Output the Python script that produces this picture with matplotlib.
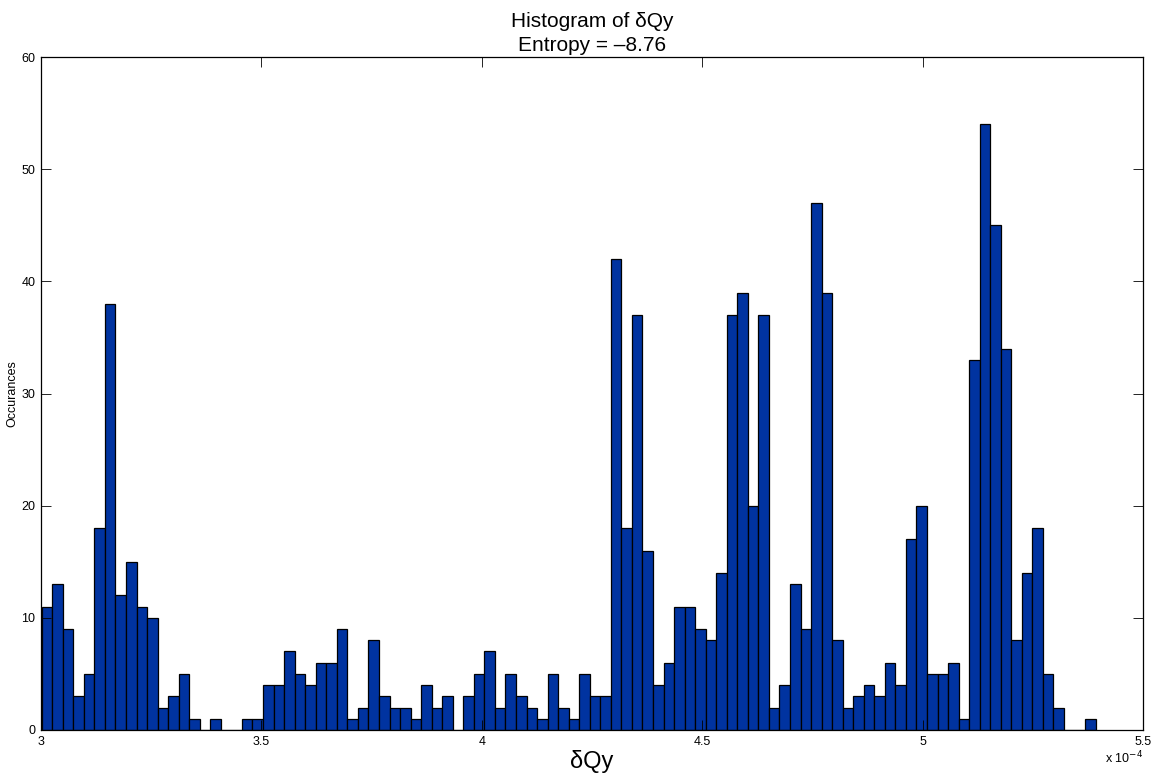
import numpy as np
import matplotlib.pyplot as plt

# histogram counts (100 bins)
counts = [11, 13, 9, 3, 5, 18, 38, 12, 15, 11,
          10, 2, 3, 5, 1, 0, 1, 0, 0, 1,
          1, 4, 4, 7, 5, 4, 6, 6, 9, 1,
          2, 8, 3, 2, 2, 1, 4, 2, 3, 0,
          3, 5, 7, 2, 5, 3, 2, 1, 5, 2,
          1, 5, 3, 3, 42, 18, 37, 16, 4, 6,
          11, 11, 9, 8, 14, 37, 39, 20, 37, 2,
          4, 13, 9, 47, 39, 8, 2, 3, 4, 3,
          6, 4, 17, 20, 5, 5, 6, 1, 33, 54,
          45, 34, 8, 14, 18, 5, 2, 0, 0, 1]

# data range (units of 1e-4)
dq_min = 3.0015
dq_max = 5.3925

x_ticks = [3, 3.5, 4, 4.5, 5, 5.5]
x_ticklabels = ["3", "3.5", "4", "4.5", "5", "5.5"]
y_ticks = [0, 10, 20, 30, 40, 50, 60]

title_lines = ["Histogram of δQy", "Entropy = \u20138.76"]

plt.rcParams["font.family"] = ["Liberation Sans Narrow", "Liberation Sans", "DejaVu Sans"]

edges = np.linspace(dq_min, dq_max, len(counts) + 1)
widths = np.diff(edges)

fig = plt.figure(figsize=(11.63, 7.77), dpi=100)
ax = fig.add_axes([0.0353, 0.0605, 0.9475, 0.8661])

ax.bar(edges[:-1], counts, width=widths, align="edge",
       color="#0033a0", edgecolor="black", linewidth=0.9)

ax.set_xlim(3, 5.5)
ax.set_ylim(0, 60)
ax.set_xticks(x_ticks)
ax.set_xticklabels(x_ticklabels)
ax.set_yticks(y_ticks)
ax.tick_params(direction="in", length=7, width=0.6, labelsize=9,
               top=True, right=True, pad=4)
for s in ax.spines.values():
    s.set_linewidth(0.9)

ax.set_title("\n".join(title_lines), fontsize=15, linespacing=1.35, pad=4)
ax.set_xlabel("δQy", fontsize=17, labelpad=2)
ax.set_ylabel("Occurances", fontsize=9, labelpad=2)

ax.text(1.0, -0.03, "x 10$^{-4}$", transform=ax.transAxes,
        ha="right", va="top", fontsize=9)

fig.savefig("out.png", dpi=100)
